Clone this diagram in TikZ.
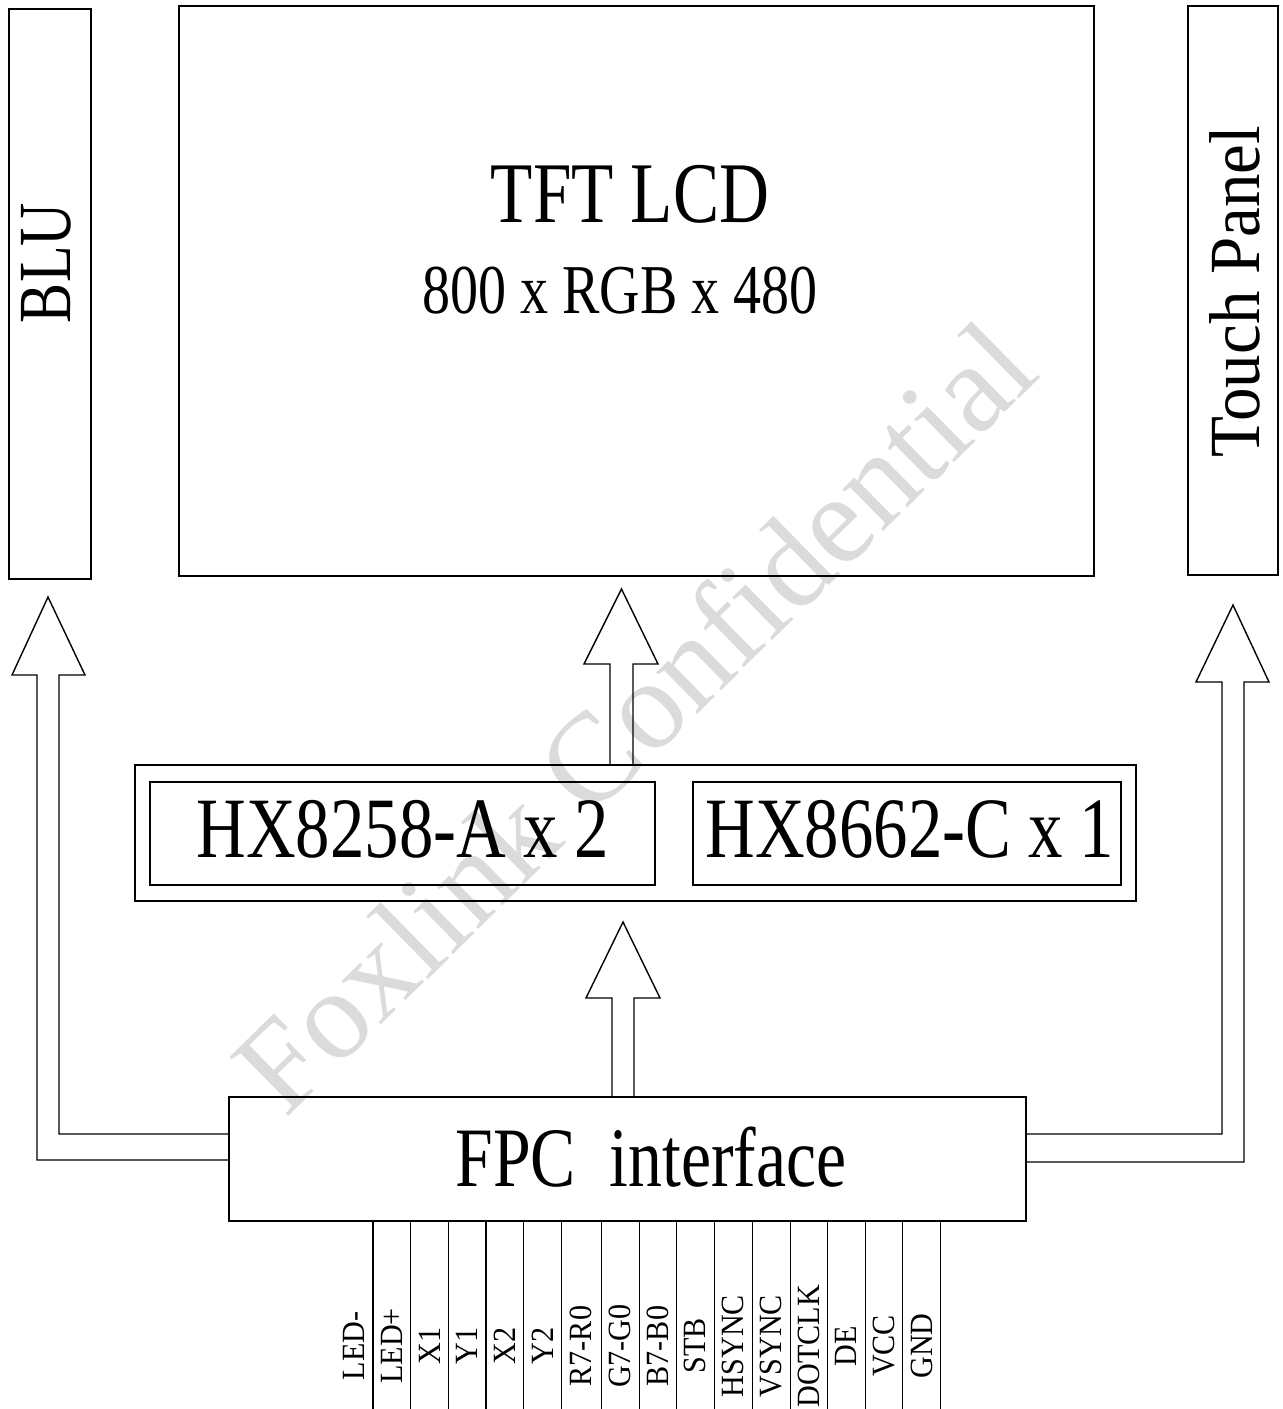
\documentclass[tikz,border=0pt]{standalone}
\usepackage{fontspec}
\setmainfont{Liberation Serif}
\newfontfamily\narrowfont[FakeStretch=0.8]{Liberation Serif}
\newfontfamily\pinfont[FakeStretch=0.93]{Liberation Serif}

\tikzset{
  blk/.style={draw, line width=0.7pt, inner sep=0pt},
  bigtxt/.style={inner sep=0pt, font=\narrowfont\fontsize{#1}{#1}\selectfont},
  pinlbl/.style={rotate=90, inner sep=0pt, font=\pinfont\fontsize{16.2}{16}\selectfont},
}

\begin{document}
\begin{tikzpicture}[x=0.5pt, y=-0.5pt, line width=0.7pt]
\useasboundingbox (0,0) rectangle (1282,1409);

% watermark
\node[rotate=44.5, inner sep=0pt, text=black!14, font=\fontsize{63.5}{64}\selectfont] (wm) at (633,716) {Foxlink Confidential};

\node[blk, minimum width=41pt, minimum height=285pt] (blu) at (50,294) {};
\node[bigtxt=37.5, rotate=90] (blutxt) at (46.7,263) {BLU};

\node[blk, minimum width=457.5pt, minimum height=285pt] (lcd) at (636.5,291) {};
\node[bigtxt=43.2] (lcdtxt) at (630,194) {TFT LCD};
\node[bigtxt=35] (restxt) at (620,291) {800 x RGB x 480};

\node[blk, minimum width=45pt, minimum height=284.5pt] (touch) at (1233,290.5) {};
\node[rotate=90, inner sep=0pt, font=\pinfont\fontsize{36}{36}\selectfont] (touchtxt) at (1235,292) {Touch Panel};

\node[blk, minimum width=500.5pt, minimum height=68pt] (drv) at (635.5,833) {};
\node[blk, minimum width=252.5pt, minimum height=51.5pt] (gate) at (402.5,833.5) {};
\node[blk, minimum width=214pt, minimum height=51.5pt] (src) at (907,833.5) {};
\node[bigtxt=43] (gatetxt) at (403,829) {HX8258-A x 2};
\node[bigtxt=43] (srctxt) at (910,829) {HX8662-C x 1};

\node[blk, minimum width=398.5pt, minimum height=62pt] (fpc) at (627.5,1159) {};
\node[bigtxt=42.3] (fpctxt) at (651,1157) {FPC\ \ interface};

% block arrows
\coordinate (lin) at (59,1134);
\coordinate (lout) at (37,1160);
\draw (fpc.west |- lin) -- (lin) -- (59,675) -- (85,675) -- (48,597) -- (12,675)
  -- (37,675) -- (lout) -- (fpc.west |- lout);

\coordinate (rin) at (1222,1134);
\coordinate (rout) at (1244,1162);
\draw (fpc.east |- rin) -- (rin) -- (1222,682) -- (1196,682) -- (1233,605) -- (1269,682)
  -- (1244,682) -- (rout) -- (fpc.east |- rout);

\coordinate (ua) at (610,664);
\coordinate (ub) at (633,664);
\draw (drv.north -| ua) -- (ua) -- (584,664) -- (621.5,589) -- (658,664) -- (ub) -- (drv.north -| ub);

\coordinate (da) at (612,998);
\coordinate (db) at (634,998);
\draw (fpc.north -| da) -- (da) -- (586,998) -- (623,922) -- (660,998) -- (db) -- (fpc.north -| db);

% pins
\foreach \xl/\xr/\lbl [count=\i] in {335/373/LED-, 373/410.5/LED+, 410.5/448.3/X1,
  448.3/486/Y1, 486/523.7/X2, 523.7/561.3/Y2, 561.3/601.2/R7-R0, 601.2/639.2/G7-G0,
  639.2/676.5/B7-B0, 676.5/714.3/STB, 714.3/752.3/HSYNC, 752.3/790.2/VSYNC,
  790.2/827.4/DOTCLK, 827.4/865.3/DE, 865.3/902.6/VCC, 902.6/940.7/GND} {
  \coordinate (t\i) at (\xr,1409);
  \draw (fpc.south -| t\i) -- (t\i);
  \node[pinlbl] (pin\i) at ({(\xl+\xr)/2},1346) {\lbl};
}

\end{tikzpicture}
\end{document}
